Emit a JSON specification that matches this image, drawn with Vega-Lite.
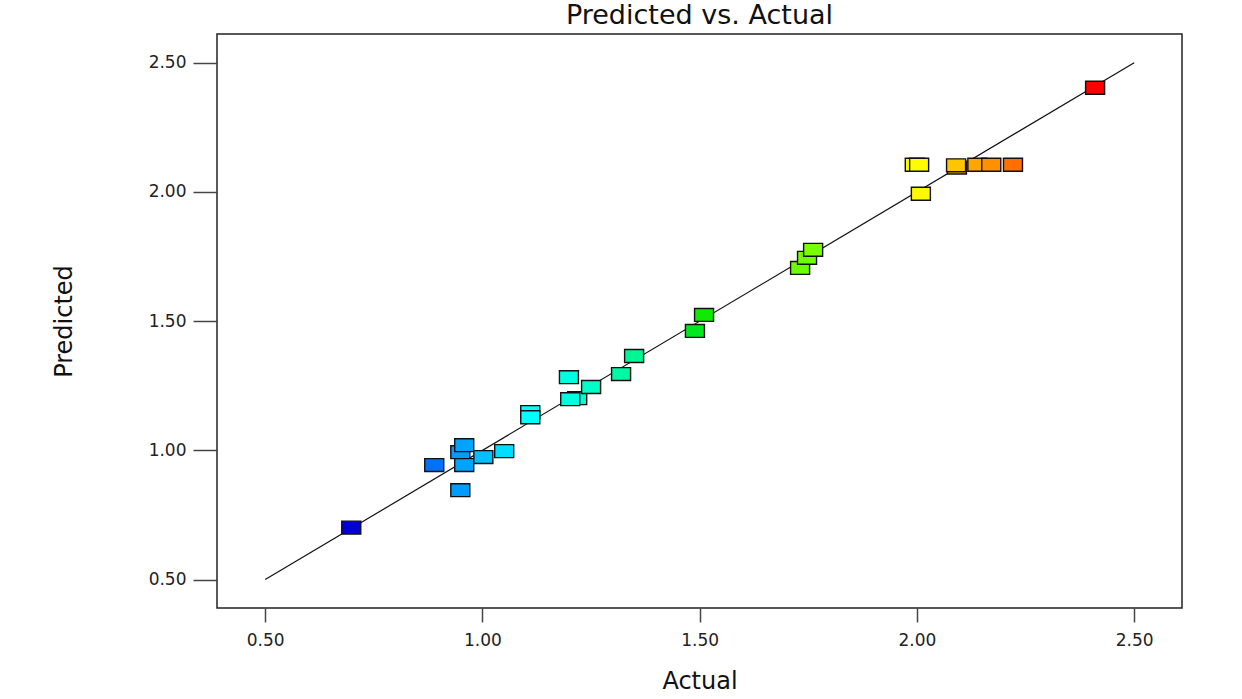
{
  "$schema": "https://vega.github.io/schema/vega-lite/v6.json",
  "autosize": {"type": "none"},
  "width": 965,
  "height": 574,
  "padding": {"left": 217, "top": 34, "right": 60, "bottom": 91},
  "background": "white",
  "title": {
    "text": "Predicted vs. Actual",
    "font": "DejaVu Sans",
    "fontSize": 27,
    "fontWeight": "normal",
    "color": "#111",
    "anchor": "middle",
    "offset": 4
  },
  "config": {
    "view": {"stroke": "#222", "strokeWidth": 1.5},
    "axis": {
      "domain": false,
      "grid": false,
      "labelFont": "DejaVu Sans",
      "labelFontSize": 17,
      "labelColor": "#222",
      "titleFont": "DejaVu Sans",
      "titleFontSize": 24,
      "titleFontWeight": "normal",
      "titleColor": "#111",
      "tickColor": "#444",
      "tickWidth": 1.5
    }
  },
  "datasets": {
    "runs": [
      {"actual": 0.698, "predicted": 0.701},
      {"actual": 0.889, "predicted": 0.943},
      {"actual": 0.949, "predicted": 0.846},
      {"actual": 0.949, "predicted": 0.993},
      {"actual": 0.958, "predicted": 1.020},
      {"actual": 0.958, "predicted": 0.943},
      {"actual": 1.002, "predicted": 0.974},
      {"actual": 1.050, "predicted": 0.997},
      {"actual": 1.110, "predicted": 1.148},
      {"actual": 1.110, "predicted": 1.128},
      {"actual": 1.199, "predicted": 1.283},
      {"actual": 1.218, "predicted": 1.202},
      {"actual": 1.202, "predicted": 1.198},
      {"actual": 1.250, "predicted": 1.245},
      {"actual": 1.319, "predicted": 1.295},
      {"actual": 1.349, "predicted": 1.365},
      {"actual": 1.489, "predicted": 1.462},
      {"actual": 1.510, "predicted": 1.524},
      {"actual": 1.731, "predicted": 1.706},
      {"actual": 1.747, "predicted": 1.745},
      {"actual": 1.761, "predicted": 1.776},
      {"actual": 1.995, "predicted": 2.105},
      {"actual": 2.005, "predicted": 2.105},
      {"actual": 2.009, "predicted": 1.993},
      {"actual": 2.092, "predicted": 2.094},
      {"actual": 2.090, "predicted": 2.103},
      {"actual": 2.139, "predicted": 2.105},
      {"actual": 2.171, "predicted": 2.105},
      {"actual": 2.221, "predicted": 2.105},
      {"actual": 2.410, "predicted": 2.403}
    ],
    "fit": [
      {"actual": 0.5, "predicted": 0.5},
      {"actual": 2.5, "predicted": 2.5}
    ]
  },
  "encoding": {
    "x": {
      "field": "actual",
      "type": "quantitative",
      "title": "Actual",
      "scale": {"domain": [0.389, 2.61], "nice": false, "zero": false},
      "axis": {
        "values": [0.5, 1, 1.5, 2, 2.5],
        "format": ".2f",
        "tickSize": 14,
        "labelPadding": 10,
        "titlePadding": 21
      }
    },
    "y": {
      "field": "predicted",
      "type": "quantitative",
      "title": "Predicted",
      "scale": {"domain": [0.39, 2.611], "nice": false, "zero": false},
      "axis": {
        "values": [0.5, 1, 1.5, 2, 2.5],
        "format": ".2f",
        "tickSize": 24,
        "labelPadding": 7,
        "titlePadding": 72
      }
    }
  },
  "layer": [
    {
      "data": {"name": "fit"},
      "mark": {"type": "line", "color": "#111", "strokeWidth": 1.2},
      "encoding": {}
    },
    {
      "data": {"name": "runs"},
      "mark": {
        "type": "point",
        "filled": true,
        "shape": "M-1,-0.68L1,-0.68L1,0.68L-1,0.68Z",
        "size": 361,
        "stroke": "#111",
        "strokeWidth": 1.4,
        "opacity": 1
      },
      "encoding": {
        "fill": {
          "field": "actual",
          "type": "quantitative",
          "legend": null,
          "scale": {
            "domain": [0.7, 0.89, 1.11, 1.5, 1.75, 2.0, 2.22, 2.41],
            "range": ["#0000d8", "#0070ff", "#00ffff", "#00e800", "#70ff00", "#ffff00", "#ff7000", "#ff0000"]
          }
        }
      }
    }
  ]
}
